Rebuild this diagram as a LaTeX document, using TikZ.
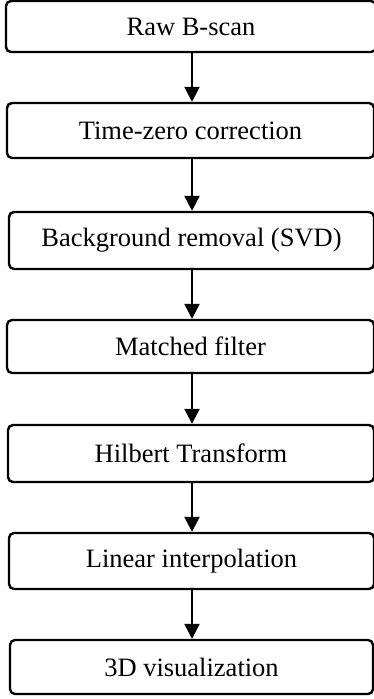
\documentclass[tikz,border=0pt]{standalone}
\usepackage{fontspec}
\setmainfont{Liberation Serif}
\usetikzlibrary{arrows.meta}
\begin{document}
\begin{tikzpicture}[x=1pt,y=1pt,
  stepbox/.style={draw, line width=2.4pt, rounded corners=5pt, inner sep=0pt, fill=white,
    font=\fontsize{26.5}{30}\selectfont},
  flow/.style={line width=2.4pt, -{Triangle[length=15pt,width=15pt]}}]
\useasboundingbox (0,0) rectangle (374,-699);
\coordinate (ax) at (192,0);
\node[stepbox, minimum width=370pt, minimum height=51pt] (b1) at (191,-26.5) {Raw B-scan};
\node[stepbox, minimum width=367pt, minimum height=55pt] (b2) at (190.5,-130.5) {Time-zero correction};
\node[stepbox, minimum width=365pt, minimum height=57pt] (b3) at (191.5,-240.5) {Background removal (SVD)};
\node[stepbox, minimum width=367pt, minimum height=53pt] (b4) at (190.5,-346.5) {Matched filter};
\node[stepbox, minimum width=366pt, minimum height=57pt] (b5) at (191,-453.5) {Hilbert Transform};
\node[stepbox, minimum width=365pt, minimum height=56pt] (b6) at (191.5,-561) {Linear interpolation};
\node[stepbox, minimum width=363pt, minimum height=54pt] (b7) at (191.5,-667) {3D visualization};
\foreach \a/\b in {b1/b2,b2/b3,b3/b4,b4/b5,b5/b6,b6/b7}
  \draw[flow] (\a.south -| ax) -- (\b.north -| ax);
\end{tikzpicture}
\end{document}
